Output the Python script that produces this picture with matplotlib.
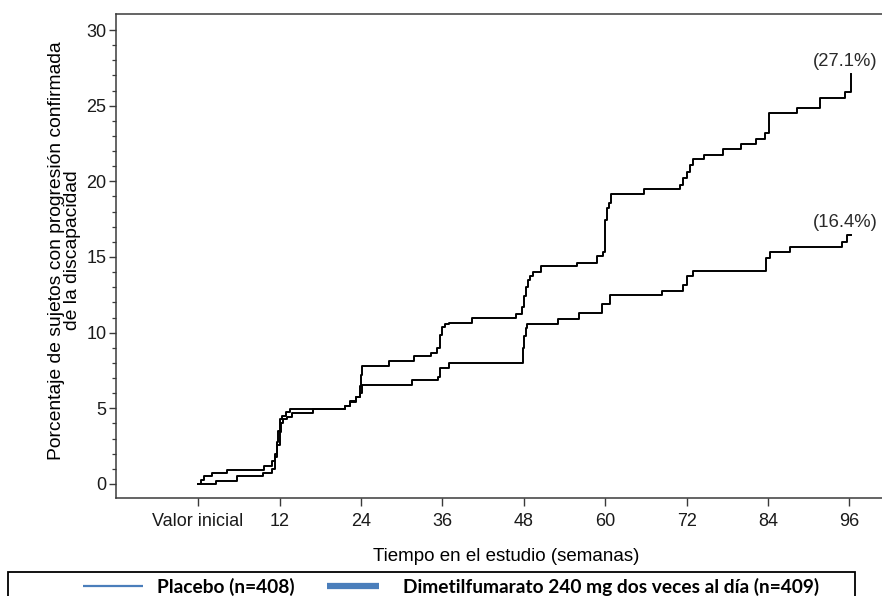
"""
Curva de Kaplan-Meier: progresión confirmada de la discapacidad
"""

import matplotlib
matplotlib.use('Agg')
import matplotlib.pyplot as plt
from matplotlib.patches import Rectangle
from matplotlib.lines import Line2D

# ================= datos =================
placebo_weeks = [0, 0.4, 0.9, 2.1, 4.3, 9.7, 10.9, 11.3, 11.6, 11.8,
                 12.0, 12.3, 13.0, 13.6, 21.7, 22.4, 23.3, 23.8, 24.0, 24.1,
                 28.2, 31.8, 34.4, 35.2, 35.6, 36.0, 36.4, 37.0, 40.3, 46.9,
                 47.7, 48.0, 48.3, 48.6, 48.9, 49.4, 50.5, 55.9, 58.8, 59.7,
                 60.0, 60.3, 60.6, 60.8, 65.7, 71.1, 71.5, 72.0, 72.5, 73.0,
                 74.5, 77.4, 80.0, 82.3, 83.6, 84.1, 88.3, 91.6, 95.3, 96.3]
placebo_pct = [0, 0.25, 0.5, 0.75, 0.95, 1.2, 1.5, 2.0, 2.8, 3.5,
               4.3, 4.5, 4.75, 4.93, 5.15, 5.45, 5.75, 6.5, 7.2, 7.8,
               8.13, 8.46, 8.68, 9.0, 9.85, 10.4, 10.6, 10.66, 10.95, 11.24,
               11.7, 12.4, 13.0, 13.5, 13.75, 14.03, 14.4, 14.63, 15.07, 15.35,
               17.45, 18.24, 18.57, 19.17, 19.48, 19.76, 20.2, 20.64, 21.08, 21.46,
               21.74, 22.12, 22.47, 22.78, 23.18, 24.5, 24.83, 25.53, 25.93, 27.1]

dmf_weeks = [0, 2.65, 5.75, 9.6, 10.9, 11.4, 11.7, 12.0, 12.2, 12.5,
             13.1, 13.8, 17.0, 21.7, 22.4, 23.3, 23.9, 24.1, 31.5, 35.3,
             35.7, 37.0, 47.9, 48.1, 48.3, 48.5, 53.0, 56.1, 59.5, 60.7,
             68.4, 71.5, 72.0, 73.0, 83.7, 84.3, 87.3, 94.9, 95.6, 96.3]
dmf_pct = [0, 0.2, 0.5, 0.75, 1.0, 1.8, 2.6, 3.4, 4.0, 4.3,
           4.45, 4.7, 4.93, 5.15, 5.44, 5.73, 6.0, 6.55, 6.87, 7.09,
           7.65, 8.02, 9.0, 9.8, 10.3, 10.6, 10.88, 11.28, 11.9, 12.49,
           12.78, 13.15, 13.75, 14.1, 14.92, 15.35, 15.69, 16.0, 16.45, 16.45]

x_ticks = [0, 12, 24, 36, 48, 60, 72, 84, 96]
x_tick_labels = ['Valor inicial', '12', '24', '36', '48', '60', '72', '84', '96']
y_ticks = [0, 5, 10, 15, 20, 25, 30]

end_labels = ['(27.1%)', '(16.4%)']
end_label_y = [27.95, 17.25]

legend_labels = ['Placebo (n=408)',
                 'Dimetilfumarato 240 mg dos veces al día (n=409)']

# ================= estilo =================
W, H = 882, 596
plt.rcParams.update({
    'font.family': ['Liberation Sans', 'DejaVu Sans'],
    'font.size': 13,
    'axes.linewidth': 1.1,
    'axes.edgecolor': '#3a3a3a',
    'text.color': '#1a1a1a',
    'xtick.color': '#3a3a3a',
    'ytick.color': '#3a3a3a',
    'xtick.labelcolor': '#1a1a1a',
    'ytick.labelcolor': '#1a1a1a',
})
legend_blue = '#4a7ebb'


def px2fig(x, y):
    return x / W, 1 - y / H


fig = plt.figure(figsize=(W / 100, H / 100), dpi=100, facecolor='white')
ax = fig.add_axes([116 / W, 1 - 498 / H, 768 / W, 484 / H])

ax.step(placebo_weeks, placebo_pct, where='post', color='black', lw=1.4)
ax.step(dmf_weeks, dmf_pct, where='post', color='black', lw=1.4)

for lab, yy in zip(end_labels, end_label_y):
    ax.text(95.4, yy, lab, ha='center', va='center', fontsize=13.3, color='#2a2a2a')

ax.set_xlim(-12.1, 101.1)
ax.set_ylim(-0.93, 31.06)
ax.set_xticks(x_ticks)
ax.set_xticklabels(x_tick_labels)
ax.set_yticks(y_ticks)
ax.set_yticks(range(0, 31), minor=True)
ax.tick_params(axis='x', which='major', direction='out', length=6, width=1, pad=5, labelsize=13)
ax.tick_params(axis='y', which='major', direction='out', length=5, width=1, pad=2, labelsize=13)
ax.tick_params(axis='y', which='minor', direction='out', length=3, width=0.9)
ax.spines['right'].set_visible(False)

ax.set_ylabel('Porcentaje de sujetos con progresión confirmada\nde la discapacidad',
              fontsize=13.9, linespacing=0.88)
ax.yaxis.set_label_coords(-0.046, 0.512)
ax.set_xlabel('Tiempo en el estudio (semanas)', fontsize=13.5)
ax.xaxis.set_label_coords(0.5085, -0.103)

# ================= leyenda (caja inferior) =================
x0, y0 = px2fig(8, 606)
x1, y1 = px2fig(855, 572)
fig.add_artist(Rectangle((x0, y0), x1 - x0, y1 - y0, transform=fig.transFigure,
                         facecolor='none', edgecolor='black', lw=1.3))
handles = [((83, 143), 1.6), ((327, 379), 4.5)]
text_x = [157, 403]
for (xs, lw), tx, lab in zip(handles, text_x, legend_labels):
    a, b = px2fig(xs[0], 586)
    c, _ = px2fig(xs[1], 586)
    fig.add_artist(Line2D([a, c], [b, b], transform=fig.transFigure,
                          color=legend_blue, lw=lw, solid_capstyle='butt'))
    tx_f, ty_f = px2fig(tx, 587)
    fig.text(tx_f, ty_f, lab, ha='left', va='center', fontsize=13.8,
             fontweight='bold', family=['Lato', 'DejaVu Sans'], color='black')

fig.savefig('out.png', dpi=100, facecolor='white')
